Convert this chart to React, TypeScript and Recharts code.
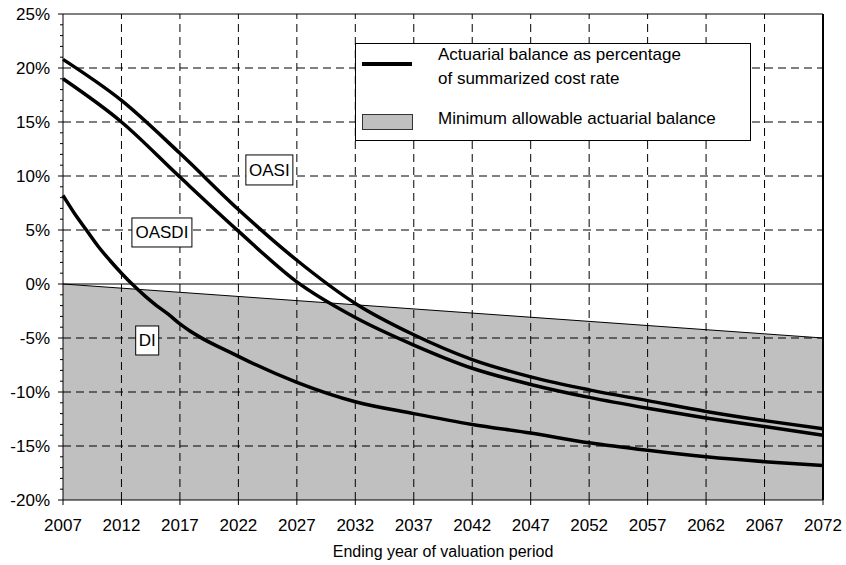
import React from "react";
import {
  ComposedChart,
  Line,
  Area,
  XAxis,
  YAxis,
  ReferenceLine,
  ReferenceDot,
} from "recharts";

// Actuarial balance by ending year of valuation period (percent of summarized cost rate)

const years = [
  2007, 2008, 2009, 2010, 2011, 2012, 2013, 2014, 2015, 2016, 2017, 2022, 2027,
  2032, 2037, 2042, 2047, 2052, 2057, 2062, 2067, 2072,
];
const oasi = [
  20.8, null, null, null, null, 17.0, null, null, null, null, 12.1, 6.9, 2.2,
  -1.8, -4.7, -7.0, -8.6, -9.8, -10.8, -11.8, -12.65, -13.4,
];
const oasdi = [
  19.0, null, null, null, null, 15.0, null, null, null, null, 9.9, 4.9, 0.2,
  -3.1, -5.65, -7.8, -9.3, -10.5, -11.5, -12.4, -13.2, -14.0,
];
const di = [
  8.2, 6.5, 5.0, 3.5, 2.2, 1.0, -0.1, -1.1, -2.0, -2.8, -3.7, -6.7, -9.1,
  -10.9, -12.0, -13.0, -13.8, -14.7, -15.4, -16.0, -16.45, -16.8,
];
const minAllowable = [
  0, null, null, null, null, null, null, null, null, null, null, null, null,
  null, null, null, null, null, null, null, null, -5.0,
];

const xTicks = [
  2007, 2012, 2017, 2022, 2027, 2032, 2037, 2042, 2047, 2052, 2057, 2062, 2067,
  2072,
];
const xGrid = [2012, 2017, 2022, 2027, 2032, 2037, 2042, 2047, 2052, 2057, 2062, 2067];
const yTicks = [
  -20, -19, -18, -17, -16, -15, -14, -13, -12, -11, -10, -9, -8, -7, -6, -5, -4,
  -3, -2, -1, 0, 1, 2, 3, 4, 5, 6, 7, 8, 9, 10, 11, 12, 13, 14, 15, 16, 17, 18,
  19, 20, 21, 22, 23, 24, 25,
];
const yGrid = [20, 15, 10, 5, -5, -10, -15];

const seriesLabels = [
  { name: "OASI", year: 2024.65, value: 10.56, w: 47, h: 30 },
  { name: "OASDI", year: 2015.46, value: 4.77, w: 60, h: 29 },
  { name: "DI", year: 2014.2, value: -5.23, w: 23, h: 29 },
];

const data = years.map((year, i) => ({
  year,
  oasi: oasi[i],
  oasdi: oasdi[i],
  di: di[i],
  min: minAllowable[i],
}));

const FONT = "'Liberation Sans', Arial, sans-serif";

function YTick({ x, y, payload }: any) {
  const v: number = payload.value;
  const major = v % 5 === 0;
  return (
    <g>
      <line x1={x - (major ? 5 : 3)} x2={x} y1={y} y2={y} stroke="#000" strokeWidth={1} />
      {major && (
        <text x={x - 13} y={y} dy={6} textAnchor="end" fontSize={17} fill="#000" fontFamily={FONT}>
          {v}%
        </text>
      )}
    </g>
  );
}

function labelShape(w: number, h: number, text: string) {
  return (props: any) => {
    const { cx, cy } = props;
    return (
      <g>
        <rect x={cx - w / 2} y={cy - h / 2} width={w} height={h} fill="#fff" stroke="#000" strokeWidth={1} />
        <text x={cx} y={cy} dy={6} textAnchor="middle" fontSize={17} fill="#000" fontFamily={FONT}>
          {text}
        </text>
      </g>
    );
  };
}

export default function App() {
  return (
    <div style={{ position: "absolute", left: 0, top: 0, width: 846, height: 565, fontFamily: FONT, background: "#fff" }}>
      <ComposedChart width={846} height={565} data={data} margin={{ top: 14, right: 23, left: 0, bottom: 0 }}>
        <XAxis
          dataKey="year"
          type="number"
          domain={[2007, 2072]}
          ticks={xTicks}
          interval={0}
          tick={{ fontSize: 17, fill: "#000", fontFamily: FONT }}
          tickSize={5}
          tickMargin={14}
          axisLine={{ stroke: "#000" }}
          tickLine={{ stroke: "#000" }}
          height={65}
          label={{ value: "Ending year of valuation period", position: "insideBottom", offset: 8, fontSize: 16, fill: "#000", fontFamily: FONT }}
        />
        <YAxis
          type="number"
          domain={[-20, 25]}
          ticks={yTicks}
          interval={0}
          width={63}
          tickSize={0}
          tickMargin={0}
          tick={<YTick />}
          tickLine={false}
          axisLine={{ stroke: "#000" }}
        />
        <Area
          type="linear"
          dataKey="min"
          baseValue={-20}
          connectNulls
          fill="#c0c0c0"
          fillOpacity={1}
          stroke="#000"
          strokeWidth={1}
          isAnimationActive={false}
          zIndex={100}
        />
        {xGrid.map((x) => (
          <ReferenceLine key={"x" + x} x={x} stroke="#000" strokeDasharray="8 5" zIndex={150} />
        ))}
        {yGrid.map((y) => (
          <ReferenceLine key={"y" + y} y={y} stroke="#000" strokeDasharray="8 5" zIndex={150} />
        ))}
        <ReferenceLine y={0} stroke="#000" zIndex={150} />
        <ReferenceLine y={25} stroke="#000" zIndex={150} />
        <ReferenceLine x={2072} stroke="#000" strokeWidth={2} zIndex={150} />
        <Line type="monotone" dataKey="oasi" stroke="#000" strokeWidth={3.5} dot={false} connectNulls isAnimationActive={false} />
        <Line type="monotone" dataKey="oasdi" stroke="#000" strokeWidth={3.5} dot={false} connectNulls isAnimationActive={false} />
        <Line type="monotone" dataKey="di" stroke="#000" strokeWidth={3.5} dot={false} connectNulls isAnimationActive={false} />
        {seriesLabels.map((l) => (
          <ReferenceDot key={l.name} x={l.year} y={l.value} shape={labelShape(l.w, l.h, l.name)} zIndex={2000} />
        ))}
      </ComposedChart>

      {/* legend */}
      <div style={{ position: "absolute", left: 355, top: 43, width: 394, height: 96, background: "#fff", border: "1px solid #000" }}>
        <div style={{ position: "absolute", left: 6, top: 18, width: 50, height: 3.5, background: "#000" }} />
        <div style={{ position: "absolute", left: 6, top: 70, width: 49, height: 14, background: "#c0c0c0", border: "1px solid #333" }} />
        <div style={{ position: "absolute", left: 82, top: -1, fontSize: 17, lineHeight: "24px", color: "#000", whiteSpace: "nowrap" }}>
          Actuarial balance as percentage
          <br />
          of summarized cost rate
        </div>
        <div style={{ position: "absolute", left: 82, top: 63, fontSize: 17, lineHeight: "24px", color: "#000", whiteSpace: "nowrap" }}>
          Minimum allowable actuarial balance
        </div>
      </div>
    </div>
  );
}
